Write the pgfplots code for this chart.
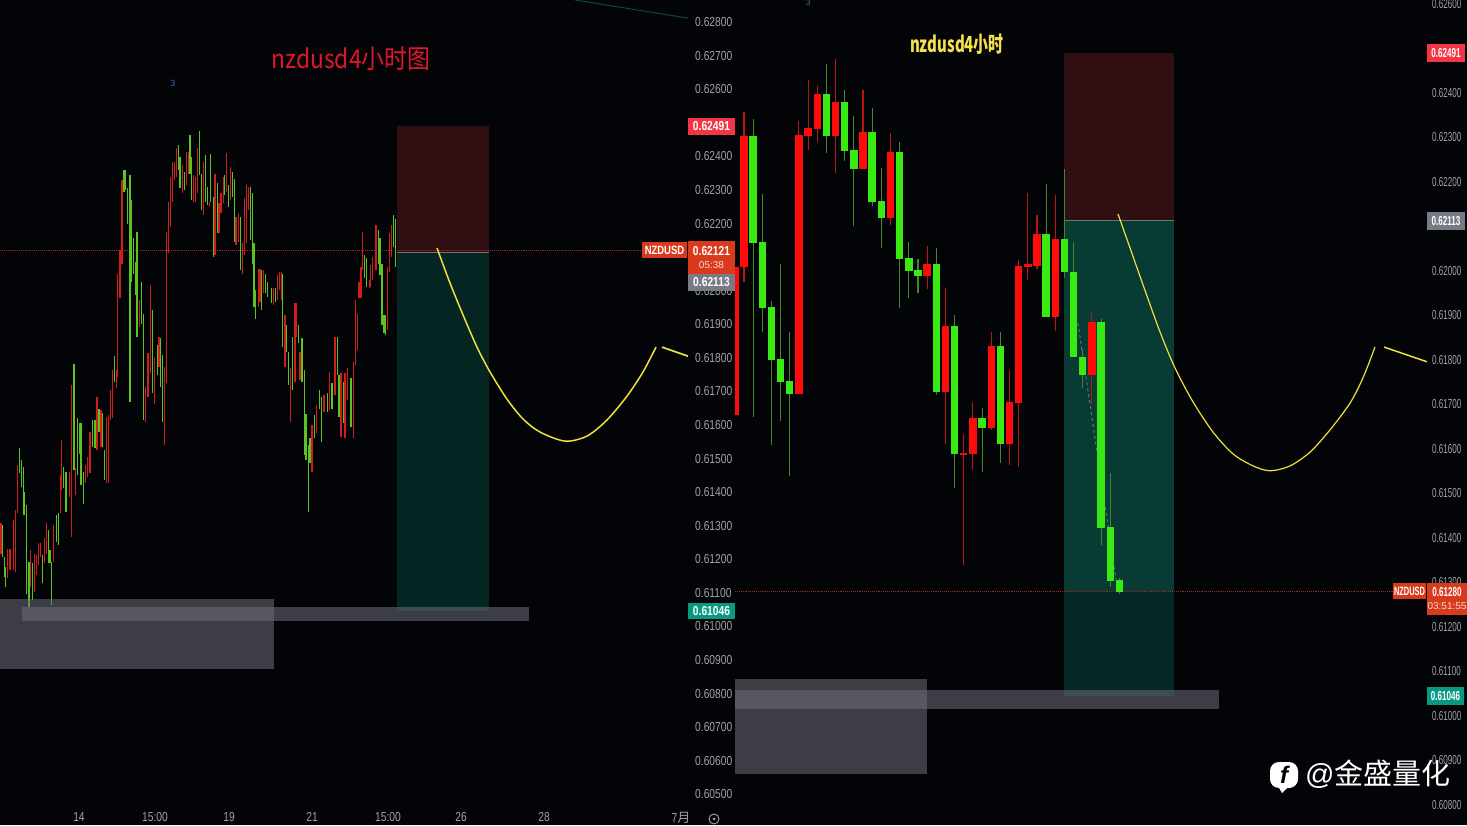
\documentclass[border=0pt]{standalone}
\usepackage{fontspec}
\usepackage{pgfplots}
\usepackage{pgfplotstable}
\pgfplotsset{compat=1.18}
\setmainfont{Liberation Sans}
\newfontfamily\tickL[FakeStretch=0.79]{Liberation Sans}
\newfontfamily\tickR[FakeStretch=0.62]{Liberation Sans}
\newfontfamily\cjk{Noto Sans CJK SC}
\newfontfamily\cjkL[FakeStretch=0.88]{Noto Sans CJK SC}
\newfontfamily\cjkR[FakeStretch=0.68]{Noto Sans CJK SC}

\definecolor{bg}{HTML}{030407}
\definecolor{upred}{HTML}{FF0B0B}
\definecolor{dngreen}{HTML}{39EA12}
\definecolor{wickred}{HTML}{B81814}
\definecolor{wickgreen}{HTML}{3F8A24}
\definecolor{thinred}{HTML}{D01E1A}
\definecolor{thingreen}{HTML}{5CC420}
\definecolor{tickgrey}{HTML}{A0A2A8}
\definecolor{slred}{HTML}{300F12}
\definecolor{tpteal}{HTML}{052523}
\definecolor{tptealR}{HTML}{073B34}
\definecolor{tptealD}{HTML}{062725}
\definecolor{zone}{HTML}{6C6D78}
\definecolor{curve}{HTML}{EFE03A}
\definecolor{lastred}{HTML}{D93A1C}
\definecolor{slbadge}{HTML}{F23645}
\definecolor{entrybadge}{HTML}{787B86}
\definecolor{tpbadge}{HTML}{089981}
\definecolor{dotred}{HTML}{A0281C}
\definecolor{entryline}{HTML}{6E7478}
\definecolor{dashteal}{HTML}{4F7F78}
\definecolor{topline}{HTML}{12443E}

% left chart, thin bars: x, low, high
\pgfplotstableread{
x lo hi
1.0 0.61217 0.61307
7.3 0.61143 0.61232
10 0.61168 0.61232
13.3 0.61168 0.61317
15.3 0.61163 0.61347
17.3 0.61337 0.61481
30.7 0.61118 0.61227
34.7 0.61103 0.61217
36.7 0.61153 0.61212
38.3 0.61183 0.61247
40.7 0.61208 0.61247
44.3 0.61188 0.61262
46.3 0.61217 0.61307
53.7 0.61193 0.61302
60.3 0.61337 0.61451
61.3 0.61406 0.61555
69.3 0.61386 0.61461
71.3 0.61267 0.61719
75.7 0.61391 0.61471
85.3 0.61426 0.61481
87.3 0.61446 0.61505
90 0.61456 0.61580
97 0.61525 0.61684
101 0.61535 0.61644
106.7 0.61426 0.61625
108.7 0.61426 0.61630
110.7 0.61615 0.61704
112.3 0.61620 0.61764
116.3 0.61709 0.61764
117.7 0.61744 0.62051
120 0.61977 0.62121
122 0.62081 0.62329
139.3 0.61893 0.61972
145.3 0.61610 0.61714
148 0.61684 0.61813
150.7 0.61754 0.62017
154.7 0.61664 0.61803
159 0.61774 0.61863
164.3 0.61540 0.61774
166.7 0.61724 0.62176
168.7 0.62111 0.62265
170.7 0.62190 0.62339
172.7 0.62265 0.62384
174.7 0.62329 0.62384
176.7 0.62339 0.62424
182.3 0.62290 0.62374
186.7 0.62315 0.62414
188.3 0.62349 0.62414
193.7 0.62265 0.62344
195.7 0.62265 0.62339
197.3 0.62290 0.62424
203.3 0.62225 0.62384
209.3 0.62250 0.62265
215 0.62106 0.62349
219 0.62171 0.62260
221 0.62230 0.62290
223.3 0.62260 0.62339
226.7 0.62295 0.62409
230.7 0.62270 0.62369
236 0.62136 0.62220
238.3 0.62146 0.62230
242.7 0.62051 0.62141
244.7 0.62106 0.62275
246.7 0.62141 0.62315
248.7 0.62240 0.62310
258.3 0.61952 0.62066
260 0.61967 0.62066
263.7 0.61992 0.62061
273.3 0.61957 0.62007
277.3 0.61972 0.62046
279.3 0.62002 0.62056
281.7 0.61972 0.62056
285 0.61774 0.61927
290.7 0.61610 0.61769
295 0.61729 0.61962
296.7 0.61863 0.61962
300 0.61734 0.61818
312 0.61461 0.61600
316.7 0.61575 0.61659
324 0.61639 0.61689
329.3 0.61644 0.61759
335 0.61689 0.61863
341 0.61565 0.61754
345 0.61560 0.61754
347.7 0.61674 0.61769
353.3 0.61560 0.61788
355.7 0.61779 0.61972
357.3 0.61823 0.61932
359 0.61977 0.62027
361 0.61977 0.62071
362.7 0.62061 0.62176
369.3 0.62007 0.62032
370.7 0.62012 0.62076
372.7 0.62032 0.62101
376 0.62061 0.62195
387.7 0.61883 0.62071
389.3 0.62056 0.62171
391.3 0.62101 0.62195
}\leftred
\pgfplotstableread{
x lo hi
2.7 0.61208 0.61302
4.7 0.61148 0.61208
5.3 0.61118 0.61178
19.3 0.61456 0.61530
21.3 0.61416 0.61496
23.3 0.61332 0.61476
24.7 0.61332 0.61401
26.7 0.61098 0.61361
29 0.61059 0.61193
32.7 0.61078 0.61188
42.3 0.61128 0.61212
48.3 0.61188 0.61287
50 0.61188 0.61227
51.7 0.61064 0.61193
56.7 0.61252 0.61332
58.7 0.61242 0.61337
63.3 0.61411 0.61476
66 0.61342 0.61461
74 0.61466 0.61782
77.3 0.61451 0.61620
79.3 0.61515 0.61605
81 0.61421 0.61605
83.3 0.61366 0.61461
92.7 0.61535 0.61615
95 0.61530 0.61615
99 0.61580 0.61649
102.7 0.61535 0.61635
104.7 0.61436 0.61525
114.3 0.61729 0.61805
124 0.62295 0.62359
125.3 0.62300 0.62359
127.3 0.62200 0.62305
130 0.61669 0.62344
131.3 0.62027 0.62270
133.3 0.62051 0.62156
135.3 0.61987 0.62086
137 0.61863 0.62176
141.3 0.61902 0.62027
143.3 0.61615 0.61932
152.7 0.61694 0.61942
157.3 0.61749 0.61838
160.7 0.61714 0.61858
162.7 0.61610 0.61808
178.3 0.62359 0.62434
180 0.62305 0.62399
184.3 0.62300 0.62354
190 0.62349 0.62464
191.7 0.62270 0.62399
199.3 0.62344 0.62476
201.3 0.62240 0.62349
205.3 0.62265 0.62404
207.3 0.62255 0.62310
210.7 0.62265 0.62406
213.3 0.62101 0.62280
217.3 0.62171 0.62320
224.7 0.62285 0.62344
228.3 0.62250 0.62315
232.3 0.62280 0.62354
234.7 0.62146 0.62334
240.7 0.62061 0.62220
250.3 0.62151 0.62310
252.3 0.62081 0.62290
254 0.61952 0.62141
255.7 0.61917 0.62002
261.7 0.61942 0.62061
265.7 0.61992 0.62051
267.7 0.61982 0.62027
271.7 0.61962 0.62007
275.3 0.61967 0.62007
282.7 0.61833 0.62051
286.7 0.61818 0.61898
288.7 0.61719 0.61818
292.7 0.61704 0.61863
298.3 0.61843 0.61898
302 0.61729 0.61858
304.3 0.61510 0.61764
306 0.61495 0.61634
308.3 0.61342 0.61540
310 0.61486 0.61560
314.3 0.61560 0.61630
319.3 0.61649 0.61704
321.3 0.61550 0.61684
327.3 0.61639 0.61694
332 0.61649 0.61724
337.3 0.61749 0.61863
339 0.61625 0.61749
343.3 0.61605 0.61729
351 0.61595 0.61739
364.7 0.62037 0.62106
366.7 0.62012 0.62096
378.3 0.62081 0.62180
380 0.62046 0.62156
382 0.61898 0.62081
384 0.61873 0.61927
385.7 0.61868 0.61927
393.3 0.62131 0.62225
395.3 0.62071 0.62215
}\leftgreen

% right chart, candles: bar, wick top, body top, body bottom, wick bottom
\pgfplotstableread{
i wh bt bb wl
-1 0.62066 0.62010 0.61676 0.61620
0 0.62358 0.62304 0.62009 0.61976
6 0.62336 0.62306 0.61723 0.61723
7 0.62430 0.62321 0.62304 0.62272
8 0.62415 0.62398 0.62319 0.62289
10 0.62476 0.62379 0.62304 0.62221
13 0.62406 0.62313 0.62229 0.62229
16 0.62311 0.62268 0.62119 0.62104
20 0.62057 0.62016 0.61988 0.61959
22 0.61961 0.61876 0.61729 0.61611
24 0.61633 0.61590 0.61586 0.61339
25 0.61705 0.61669 0.61588 0.61553
27 0.61863 0.61832 0.61648 0.61642
29 0.61777 0.61706 0.61611 0.61564
30 0.62025 0.62012 0.61704 0.61560
31 0.62176 0.62015 0.62009 0.61980
32 0.62126 0.62083 0.62012 0.62004
34 0.62170 0.62073 0.61897 0.61866
38 0.61905 0.61885 0.61767 0.61700
}\rightred
\pgfplotstableread{
i wh bt bb wl
1 0.62341 0.62304 0.62064 0.61671
2 0.62173 0.62066 0.61916 0.61863
3 0.61932 0.61919 0.61801 0.61609
4 0.62015 0.61803 0.61751 0.61663
5 0.61863 0.61753 0.61723 0.61539
9 0.62466 0.62398 0.62304 0.62265
11 0.62406 0.62379 0.62270 0.62248
12 0.62349 0.62272 0.62229 0.62100
14 0.62366 0.62313 0.62155 0.62146
15 0.62231 0.62158 0.62119 0.62051
17 0.62289 0.62268 0.62027 0.61916
18 0.62065 0.62030 0.62000 0.61939
19 0.62027 0.62003 0.61988 0.61950
21 0.62051 0.62016 0.61729 0.61721
23 0.61901 0.61876 0.61588 0.61513
26 0.61691 0.61669 0.61648 0.61549
28 0.61863 0.61832 0.61612 0.61568
33 0.62195 0.62083 0.61897 0.61897
35 0.62229 0.62073 0.61997 0.61984
36 0.62066 0.61998 0.61807 0.61806
37 0.61825 0.61807 0.61767 0.61736
39 0.61891 0.61885 0.61423 0.61384
40 0.61547 0.61424 0.61304 0.61290
41 0.61309 0.61305 0.61279 0.61275
}\rightgreen

% colour, width, table, x col, lower col, upper col
\newcommand{\segs}[6]{\addplot[draw=none, mark=none, forget plot,
    error bars/.cd, y dir=plus, y explicit, error mark=none,
    error bar style={draw=#1, line width=#2, line cap=butt, solid}]
    table[x=#4, y=#5, y error plus expr=\thisrow{#6}-\thisrow{#5}] {#3};}
\newcommand{\zone}[6][]{\addplot[fill=#6, draw=none, forget plot, #1]
    coordinates {(#2,#4)(#3,#4)(#3,#5)(#2,#5)} -- cycle;}
% label badge, given in pixels of the page
\newcommand{\badge}[6]{\fill[#5] (#1pt,{825pt-#2pt}) rectangle (#3pt,{825pt-#4pt});
    \node[inner sep=0pt, align=center, text=white] at ({(#1+#3)*0.5pt},{825pt-(#2+#4)*0.5pt}) {#6};}
\newcommand{\lbl}{\fontsize{13pt}{14pt}\selectfont\tickL}
\newcommand{\rbl}{\fontsize{13pt}{14pt}\selectfont\tickR}

\pgfplotsset{price/.style={
    scale only axis, anchor=south west, clip=true,
    axis line style={draw=none}, major tick length=0pt, tick style={draw=none},
    yticklabel pos=right, scaled y ticks=false,
    /pgf/number format/fixed, /pgf/number format/fixed zerofill,
    /pgf/number format/precision=5, /pgf/number format/assume math mode=true,
}}

\begin{document}
\begin{tikzpicture}
\fill[bg] (0pt,0pt) rectangle (1467pt,825pt);
\path[use as bounding box] (0pt,0pt) rectangle (1467pt,825pt);

% ---- left chart
\begin{axis}[price, at={(0pt,20pt)}, width=688pt, height=805pt,
    xmin=0, xmax=688, ymin=0.60468, ymax=0.62866,
    xtick={79,155,229,312,388,461,544,681},
    xticklabels={14,15:00,19,21,15:00,26,28,{7\cjk 月}},
    ytick={0.605,0.606,0.607,0.608,0.609,0.61,0.611,0.612,0.613,0.614,0.615,0.616,0.617,0.618,0.619,0.62,0.622,0.623,0.624,0.626,0.627,0.628},
    xticklabel style={font=\lbl, text=tickgrey, inner sep=0pt, yshift=-7pt},
    yticklabel style={font=\lbl, text=tickgrey, inner sep=0pt, xshift=7pt},
]
\zone{397}{489}{0.62491}{0.62113}{slred}
\zone{397}{489}{0.62113}{0.61046}{tpteal}
\addplot[color=dotred, line width=0.9pt, densely dotted, forget plot] coordinates {(0,0.62121)(642,0.62121)};
\addplot[color=entryline, line width=1pt, forget plot] coordinates {(397,0.62113)(489,0.62113)};
\segs{thinred}{1.3pt}{\leftred}{x}{lo}{hi}
\segs{thingreen}{1.3pt}{\leftgreen}{x}{lo}{hi}
\zone[fill opacity=0.55]{0}{274}{0.61082}{0.60873}{zone}
\zone[fill opacity=0.55]{22}{529}{0.61058}{0.61016}{zone}
\addplot[color=curve, line width=1.5pt, smooth, forget plot] coordinates {
    (437,0.62127)(450,0.62023)(463,0.61928)(477,0.61832)(490,0.61758)(507,0.61677)(523,0.61618)
    (540,0.61579)(565,0.61552)(587,0.61567)(607,0.61615)(627,0.61686)(643,0.61758)(656,0.61832)};
\addplot[color=curve, line width=1.7pt, forget plot] coordinates {(662,0.61832)(688,0.61805)};
\addplot[color=topline, line width=1pt, forget plot] coordinates {(575,0.62866)(688,0.62812)};
\end{axis}

% ---- right chart
\begin{axis}[price, at={(735pt,0pt)}, width=692pt, height=825pt,
    xmin=-0.983, xmax=74.6, ymin=0.60755, ymax=0.62609,
    xtick=\empty,
    ytick={0.608,0.609,0.61,0.611,0.612,0.613,0.614,0.615,0.616,0.617,0.618,0.619,0.62,0.621,0.622,0.623,0.624,0.626},
    yticklabel style={font=\rbl, text=tickgrey, inner sep=0pt, xshift=5pt},
]
\zone{34.95}{46.97}{0.62491}{0.62113}{slred}
\zone{34.95}{46.97}{0.62113}{0.61280}{tptealR}
\zone{34.95}{46.97}{0.61280}{0.61046}{tptealD}
\addplot[color=dotred, line width=0.9pt, densely dotted, forget plot] coordinates {(-0.983,0.61280)(70.9,0.61280)};
\addplot[color=entryline, line width=1pt, forget plot] coordinates {(34.95,0.62113)(46.97,0.62113)};
\addplot[color=dashteal, line width=1pt, dashed, forget plot] coordinates {(36.48,0.61883)(40.63,0.61306)};
\segs{wickred}{1.1pt}{\rightred}{i}{wl}{wh}
\segs{wickgreen}{1.1pt}{\rightgreen}{i}{wl}{wh}
\segs{upred}{7.4pt}{\rightred}{i}{bb}{bt}
\segs{dngreen}{7.4pt}{\rightgreen}{i}{bb}{bt}
\zone[fill opacity=0.55]{-0.983}{19.99}{0.61082}{0.60870}{zone}
\zone[fill opacity=0.55]{-0.983}{51.88}{0.61058}{0.61016}{zone}
\addplot[color=curve, line width=1.2pt, smooth, forget plot] coordinates {
    (40.85,0.62128)(42.16,0.62052)(43.58,0.61969)(45.44,0.61863)(47.08,0.61782)(49.04,0.61706)
    (51.23,0.61638)(53.41,0.61589)(55.60,0.61562)(57.46,0.61551)(59.64,0.61562)(61.83,0.61593)
    (64.01,0.61643)(66.19,0.61703)(67.61,0.61760)(68.92,0.61829)};
\addplot[color=curve, line width=1.5pt, forget plot] coordinates {(69.91,0.61829)(74.6,0.61796)};
\end{axis}

% ---- price badges, left
\badge{642}{242}{687}{258}{lastred}{\fontsize{12pt}{12pt}\selectfont\tickL\bfseries NZDUSD}
\badge{688}{118}{735}{135}{slbadge}{\lbl\bfseries 0.62491}
\badge{688}{241}{735}{274}{lastred}{\lbl\bfseries 0.62121\\[1pt]\color{white!80!lastred}05:38}
\badge{688}{274}{735}{291}{entrybadge}{\lbl\bfseries 0.62113}
\badge{688}{603}{735}{619}{tpbadge}{\lbl\bfseries 0.61046}
% ---- price badges, right
\badge{1393}{583}{1426}{599}{lastred}{\fontsize{12pt}{12pt}\selectfont\tickR\bfseries NZDUSD}
\badge{1427}{44}{1465}{62}{slbadge}{\rbl\bfseries 0.62491}
\badge{1427}{212}{1465}{230}{entrybadge}{\rbl\bfseries 0.62113}
\badge{1427}{583}{1467}{615}{lastred}{\rbl\bfseries 0.61280\\[1pt]\color{white!80!lastred}03:51:55}
\badge{1427}{687}{1464}{705}{tpbadge}{\rbl\bfseries 0.61046}

% ---- titles and marks
\node[text={rgb,255:red,225;green,22;blue,43}, inner sep=0pt] at (351pt,{825pt-59pt})
    {\fontsize{26pt}{26pt}\selectfont\cjkL nzdusd4小时图};
\node[text={rgb,255:red,247;green,224;blue,74}, inner sep=0pt] at (957pt,{825pt-44pt})
    {\fontsize{22pt}{22pt}\selectfont\cjkR\bfseries nzdusd4小时};
\node[text={rgb,255:red,58;green,110;blue,165}, inner sep=0pt] at (173pt,{825pt-83pt}) {\fontsize{9pt}{9pt}\selectfont 3};
\node[text={rgb,255:red,58;green,110;blue,165}, inner sep=0pt] at (808pt,{825pt-2pt}) {\fontsize{9pt}{9pt}\selectfont 3};
\draw[tickgrey, line width=0.9pt] (714pt,{825pt-819pt}) circle (5pt);
\fill[tickgrey] (714pt,{825pt-819pt}) circle (1.5pt);

% ---- watermark
\fill[white, rounded corners=9pt] (1270pt,{825pt-762pt}) rectangle (1298pt,{825pt-788pt});
\fill[white] (1278pt,{825pt-786pt}) -- (1289pt,{825pt-786pt}) -- (1282pt,{825pt-793pt}) -- cycle;
\node[inner sep=0pt, text=black] at (1284pt,{825pt-775pt}) {\fontsize{24pt}{24pt}\selectfont\bfseries\itshape f};
\node[inner sep=0pt, text=white, anchor=west] at (1305pt,{825pt-774pt}) {\fontsize{29pt}{29pt}\selectfont @\cjk 金盛量化};
\end{tikzpicture}
\end{document}
